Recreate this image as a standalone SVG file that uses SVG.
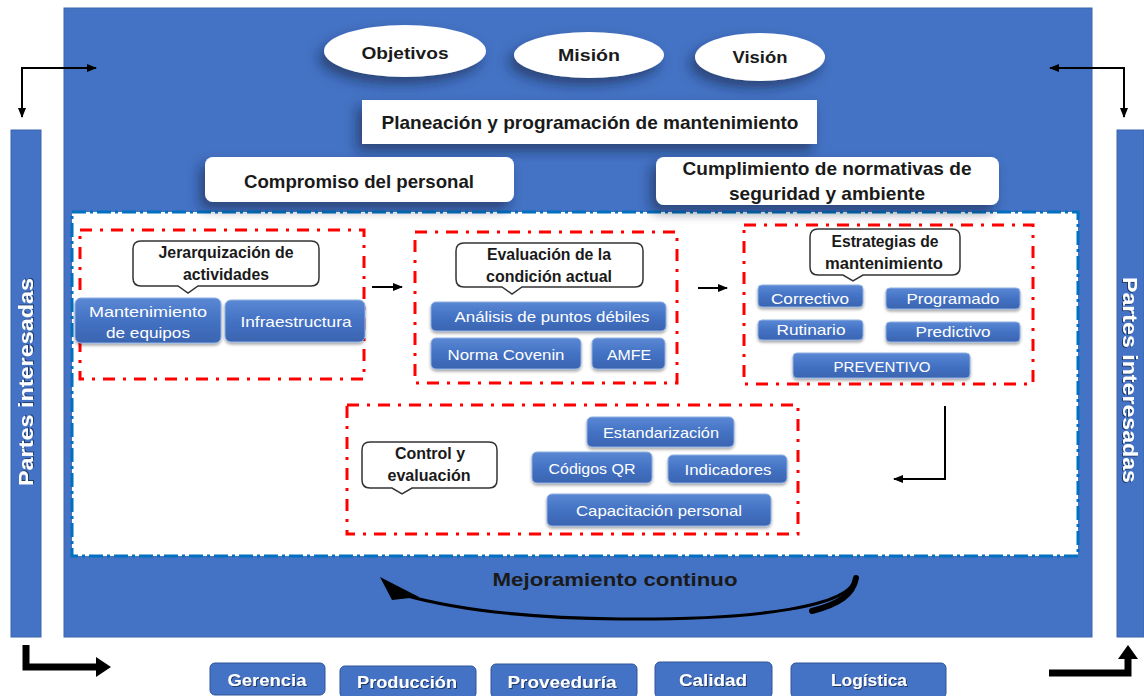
<svg xmlns="http://www.w3.org/2000/svg" width="1144" height="696" viewBox="0 0 1144 696">
<defs>
<style>
.t{font-family:"Liberation Sans",Arial,sans-serif;}
.b{font-weight:bold;}
.dk{fill:#1a1a1a;}
.wt{fill:#ffffff;}
.btn{fill:url(#bg);stroke:#8fb0e3;stroke-width:1;filter:url(#sh2);}
.bbtn{fill:#4472C4;stroke:#2f5597;stroke-width:1;}
.red{fill:none;stroke:#ff0000;stroke-width:3;stroke-dasharray:12 8 3 8;}
.call{fill:#ffffff;stroke:#333333;stroke-width:1.5;}
.ar{fill:none;stroke:#000;stroke-width:2;}
.thick{fill:none;stroke:#000;stroke-width:7;}
</style>
<linearGradient id="bg" x1="0" y1="0" x2="0" y2="1">
<stop offset="0" stop-color="#5a88d4"/>
<stop offset="0.5" stop-color="#4472C4"/>
<stop offset="1" stop-color="#3a64b0"/>
</linearGradient>
<filter id="sh" x="-20%" y="-30%" width="140%" height="170%">
<feDropShadow dx="-5" dy="7" stdDeviation="6" flood-color="#0d1a3a" flood-opacity="0.55"/>
</filter>
<filter id="sh2" x="-10%" y="-20%" width="120%" height="150%">
<feDropShadow dx="0" dy="2" stdDeviation="1.5" flood-color="#000" flood-opacity="0.35"/>
</filter>
<filter id="tsh" x="-10%" y="-20%" width="120%" height="150%">
<feDropShadow dx="1" dy="1" stdDeviation="0.6" flood-color="#000" flood-opacity="0.5"/>
</filter>
<marker id="ah" viewBox="0 0 10 10" refX="9" refY="5" markerWidth="5" markerHeight="5" orient="auto-start-reverse" markerUnits="strokeWidth">
<path d="M0,1 L10,5 L0,9 Z" fill="#000"/>
</marker>
</defs>

<g id="frame">
<rect x="64" y="8" width="1028" height="629" fill="#4472C4" stroke="#3a64ae" stroke-width="1"/>
<rect x="11" y="130" width="30" height="507" fill="#4472C4" stroke="#3a64ae" stroke-width="1"/>
<rect x="1117" y="130" width="27" height="507" fill="#4472C4" stroke="#3a64ae" stroke-width="1"/>
<text class="t b wt" font-size="20" transform="translate(33,382) rotate(-90)" text-anchor="middle" textLength="208" lengthAdjust="spacingAndGlyphs" filter="url(#tsh)">Partes interesadas</text>
<text class="t b wt" font-size="20" transform="translate(1123,380) rotate(90)" text-anchor="middle" textLength="206" lengthAdjust="spacingAndGlyphs" filter="url(#tsh)">Partes interesadas</text>
</g>

<g id="inner-area">
<rect x="72" y="212" width="1006" height="344" fill="#ffffff" stroke="#0070C0" stroke-width="3" stroke-dasharray="14 4 3 4"/>
</g>

<g id="objetivos">
<ellipse cx="405" cy="51" rx="81" ry="26" fill="#ffffff" filter="url(#sh)"/>
<text class="t b dk" x="405" y="59" font-size="17" text-anchor="middle" textLength="87" lengthAdjust="spacingAndGlyphs">Objetivos</text>
</g>
<g id="mision">
<ellipse cx="589" cy="55" rx="75" ry="23" fill="#ffffff" filter="url(#sh)"/>
<text class="t b dk" x="589" y="61" font-size="17" text-anchor="middle" textLength="62" lengthAdjust="spacingAndGlyphs">Misión</text>
</g>
<g id="vision">
<ellipse cx="760" cy="57" rx="65" ry="24" fill="#ffffff" filter="url(#sh)"/>
<text class="t b dk" x="760" y="63" font-size="17" text-anchor="middle" textLength="55" lengthAdjust="spacingAndGlyphs">Visión</text>
</g>

<g id="planeacion">
<rect x="362" y="100" width="455" height="44" fill="#ffffff" filter="url(#sh)"/>
<text class="t b dk" x="590" y="129" font-size="19" text-anchor="middle" textLength="417" lengthAdjust="spacingAndGlyphs">Planeación y programación de mantenimiento</text>
</g>

<g id="compromiso">
<rect x="205" y="157" width="309" height="45" rx="8" fill="#ffffff" filter="url(#sh)"/>
<text class="t b dk" x="359" y="188" font-size="19" text-anchor="middle" textLength="230" lengthAdjust="spacingAndGlyphs">Compromiso del personal</text>
</g>

<g id="cumplimiento">
<rect x="656" y="157" width="343" height="48" rx="8" fill="#ffffff" filter="url(#sh)"/>
<text class="t b dk" x="827" y="175" font-size="19" text-anchor="middle" textLength="289" lengthAdjust="spacingAndGlyphs">Cumplimiento de normativas de</text>
<text class="t b dk" x="827" y="200" font-size="19" text-anchor="middle" textLength="196" lengthAdjust="spacingAndGlyphs">seguridad y ambiente</text>
</g>

<g id="jerarquizacion">
<rect class="red" x="80" y="230" width="284" height="149"/>
<path class="call" d="M141,241 H311 Q319,241 319,249 V278 Q319,286 311,286 H198 L188,293 L178,286 H141 Q133,286 133,278 V249 Q133,241 141,241 Z"/>
<text class="t b dk" x="226" y="258" font-size="16" text-anchor="middle" textLength="135" lengthAdjust="spacingAndGlyphs">Jerarquización de</text>
<text class="t b dk" x="226" y="280" font-size="16" text-anchor="middle" textLength="86" lengthAdjust="spacingAndGlyphs">actividades</text>
<rect class="btn" x="75" y="298" width="146" height="45" rx="6"/>
<text class="t wt" x="148" y="317" font-size="15" text-anchor="middle" textLength="118" lengthAdjust="spacingAndGlyphs">Mantenimiento</text>
<text class="t wt" x="148" y="338" font-size="15" text-anchor="middle" textLength="84" lengthAdjust="spacingAndGlyphs">de equipos</text>
<rect class="btn" x="225" y="300" width="140" height="42" rx="6"/>
<text class="t wt" x="296" y="327" font-size="15" text-anchor="middle" textLength="111" lengthAdjust="spacingAndGlyphs">Infraestructura</text>
</g>

<g id="evaluacion">
<rect class="red" x="415" y="232" width="262" height="151"/>
<path class="call" d="M464,243 H635 Q643,243 643,251 V279 Q643,287 635,287 H522 L512,294 L502,287 H464 Q456,287 456,279 V251 Q456,243 464,243 Z"/>
<text class="t b dk" x="549" y="260" font-size="16" text-anchor="middle" textLength="124" lengthAdjust="spacingAndGlyphs">Evaluación de la</text>
<text class="t b dk" x="549" y="282" font-size="16" text-anchor="middle" textLength="126" lengthAdjust="spacingAndGlyphs">condición actual</text>
<rect class="btn" x="431" y="302" width="235" height="29" rx="5"/>
<text class="t wt" x="552" y="322" font-size="15" text-anchor="middle" textLength="195" lengthAdjust="spacingAndGlyphs">Análisis de puntos débiles</text>
<rect class="btn" x="431" y="338" width="150" height="31" rx="5"/>
<text class="t wt" x="506" y="360" font-size="15" text-anchor="middle" textLength="117" lengthAdjust="spacingAndGlyphs">Norma Covenin</text>
<rect class="btn" x="592" y="338" width="73" height="31" rx="5"/>
<text class="t wt" x="629" y="360" font-size="15" text-anchor="middle" textLength="44" lengthAdjust="spacingAndGlyphs">AMFE</text>
</g>

<g id="estrategias">
<rect class="red" x="744" y="225" width="289" height="159"/>
<path class="call" d="M818,229 H952 Q960,229 960,237 V267 Q960,275 952,275 H863 L853,281 L843,275 H818 Q810,275 810,267 V237 Q810,229 818,229 Z"/>
<text class="t b dk" x="885" y="247" font-size="16" text-anchor="middle" textLength="107" lengthAdjust="spacingAndGlyphs">Estrategias de</text>
<text class="t b dk" x="884" y="269" font-size="16" text-anchor="middle" textLength="118" lengthAdjust="spacingAndGlyphs">mantenimiento</text>
<rect class="btn" x="758" y="285" width="105" height="22" rx="4"/>
<text class="t wt" x="810" y="304" font-size="15" text-anchor="middle" textLength="78" lengthAdjust="spacingAndGlyphs">Correctivo</text>
<rect class="btn" x="886" y="288" width="134" height="21" rx="4"/>
<text class="t wt" x="953" y="304" font-size="15" text-anchor="middle" textLength="93" lengthAdjust="spacingAndGlyphs">Programado</text>
<rect class="btn" x="758" y="320" width="105" height="20" rx="4"/>
<text class="t wt" x="811" y="335" font-size="15" text-anchor="middle" textLength="69" lengthAdjust="spacingAndGlyphs">Rutinario</text>
<rect class="btn" x="886" y="322" width="134" height="20" rx="4"/>
<text class="t wt" x="953" y="337" font-size="15" text-anchor="middle" textLength="75" lengthAdjust="spacingAndGlyphs">Predictivo</text>
<rect class="btn" x="793" y="353" width="177" height="25" rx="4"/>
<text class="t wt" x="882" y="372" font-size="15" text-anchor="middle" textLength="97" lengthAdjust="spacingAndGlyphs">PREVENTIVO</text>
</g>

<g id="control">
<rect class="red" x="347" y="405" width="451" height="129"/>
<path class="call" d="M370,442 H489 Q497,442 497,450 V480 Q497,488 489,488 H412 L402,494 L392,488 H370 Q362,488 362,480 V450 Q362,442 370,442 Z"/>
<text class="t b dk" x="430" y="459" font-size="16" text-anchor="middle" textLength="70" lengthAdjust="spacingAndGlyphs">Control y</text>
<text class="t b dk" x="429" y="481" font-size="16" text-anchor="middle" textLength="83" lengthAdjust="spacingAndGlyphs">evaluación</text>
<rect class="btn" x="587" y="417" width="147" height="30" rx="5"/>
<text class="t wt" x="661" y="438" font-size="15" text-anchor="middle" textLength="116" lengthAdjust="spacingAndGlyphs">Estandarización</text>
<rect class="btn" x="532" y="452" width="120" height="31" rx="5"/>
<text class="t wt" x="592" y="474" font-size="15" text-anchor="middle" textLength="87" lengthAdjust="spacingAndGlyphs">Códigos QR</text>
<rect class="btn" x="668" y="455" width="119" height="28" rx="5"/>
<text class="t wt" x="728" y="475" font-size="15" text-anchor="middle" textLength="87" lengthAdjust="spacingAndGlyphs">Indicadores</text>
<rect class="btn" x="547" y="494" width="224" height="32" rx="5"/>
<text class="t wt" x="659" y="516" font-size="15" text-anchor="middle" textLength="166" lengthAdjust="spacingAndGlyphs">Capacitación personal</text>
</g>

<g id="mejoramiento">
<text class="t b dk" x="615" y="586" font-size="19" text-anchor="middle" textLength="245" lengthAdjust="spacingAndGlyphs">Mejoramiento continuo</text>
</g>

<g id="gerencia">
<rect class="bbtn" x="210" y="663" width="115" height="32" rx="5"/>
<text class="t b wt" x="267" y="686" font-size="17" text-anchor="middle" textLength="79" lengthAdjust="spacingAndGlyphs" filter="url(#tsh)">Gerencia</text>
</g>
<g id="produccion">
<rect class="bbtn" x="340" y="666" width="136" height="32" rx="5"/>
<text class="t b wt" x="407" y="688" font-size="17" text-anchor="middle" textLength="100" lengthAdjust="spacingAndGlyphs" filter="url(#tsh)">Producción</text>
</g>
<g id="proveeduria">
<rect class="bbtn" x="491" y="664" width="146" height="34" rx="5"/>
<text class="t b wt" x="562" y="688" font-size="17" text-anchor="middle" textLength="109" lengthAdjust="spacingAndGlyphs" filter="url(#tsh)">Proveeduría</text>
</g>
<g id="calidad">
<rect class="bbtn" x="655" y="662" width="117" height="36" rx="5"/>
<text class="t b wt" x="713" y="686" font-size="17" text-anchor="middle" textLength="68" lengthAdjust="spacingAndGlyphs" filter="url(#tsh)">Calidad</text>
</g>
<g id="logistica">
<rect class="bbtn" x="791" y="663" width="155" height="35" rx="5"/>
<text class="t b wt" x="869" y="686" font-size="17" text-anchor="middle" textLength="76" lengthAdjust="spacingAndGlyphs" filter="url(#tsh)">Logística</text>
</g>

<g id="connectors">
<path class="ar" d="M22,117 V68 H96" marker-start="url(#ah)" marker-end="url(#ah)"/>
<path class="ar" d="M1050,68 H1124 V117" marker-start="url(#ah)" marker-end="url(#ah)"/>
<path class="ar" d="M372,287 H402" marker-end="url(#ah)"/>
<path class="ar" d="M698,288 H727" marker-end="url(#ah)"/>
<path class="ar" d="M945,406 V479 H894" marker-end="url(#ah)"/>
<path class="thick" d="M26,645 V667 H98"/>
<polygon points="96,657 111,667 96,677" fill="#000"/>
<path class="thick" d="M1049,673 H1128 V657"/>
<polygon points="1118,659 1128,645 1138,659" fill="#000"/>
<path d="M855,578 C852,606 760,620 620,619 C520,618 450,608 404,595" fill="none" stroke="#000" stroke-width="3"/>
<path d="M856,578 C853,594 840,604 812,611" fill="none" stroke="#000" stroke-width="6" stroke-linecap="round"/>
<polygon points="380,577 419,597 392,600" fill="#000"/>
</g>
</svg>
